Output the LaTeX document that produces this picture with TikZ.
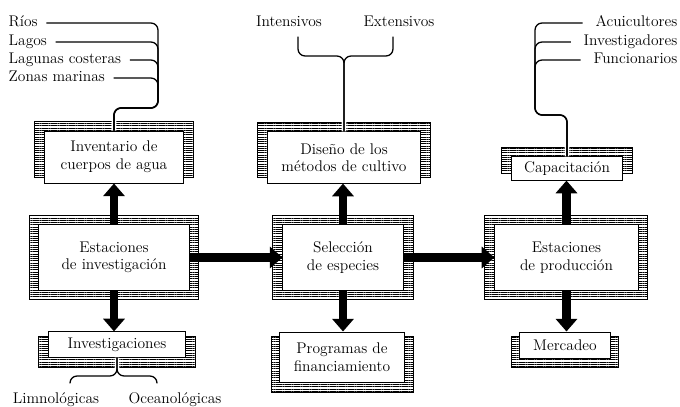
\documentclass[tikz,border=0pt]{standalone}
\usepackage{tikz}
\usetikzlibrary{positioning, arrows.meta, patterns.meta, backgrounds, calc}

\begin{document}
\begin{tikzpicture}[x=0.025cm, y=-0.025cm,
  font=\fontsize{11}{12.5}\selectfont,
  card/.style={draw, fill=white, line width=0.7pt, align=center, inner sep=0pt},
  hatch/.style={draw, line width=0.6pt, pattern={Lines[distance=1.6pt, line width=0.7pt]}},
  tag/.style={inner xsep=6pt, inner ysep=3pt, text height=1ex, text depth=0pt},
  branch/.style={line width=0.9pt, rounded corners=5pt},
  gap/.style={preaction={draw, white, line width=3.5pt}},
  bigarrow/.style={line width=6pt, -{Triangle[length=9pt, width=15pt]}}]
\useasboundingbox (0,0) rectangle (680,407);

% boxes
\node[card, minimum width=3.45cm, minimum height=1.3cm] (inventario) at (114,157) {Inventario de\\cuerpos de agua};
\node[card, minimum width=3.8cm, minimum height=1.28cm] (diseno) at (344,157.5) {Diseño de los\\métodos de cultivo};
\node[card, minimum width=2.78cm, minimum height=0.58cm] (capacitacion) at (567,168.5) {Capacitación};

\node[card, minimum width=3.75cm, minimum height=1.63cm] (estinv) at (114,257.5) {Estaciones\\de investigación};
\node[card, minimum width=3.0cm, minimum height=1.63cm] (seleccion) at (343,257.5) {Selección\\de especies};
\node[card, minimum width=3.58cm, minimum height=1.63cm] (estprod) at (566.5,257.5) {Estaciones\\de producción};

\node[card, minimum width=3.4cm, minimum height=0.63cm] (investigaciones) at (117,344.5) {Investigaciones};
\node[card, minimum width=3.1cm, minimum height=1.25cm] (programas) at (342,357) {Programas de\\financiamiento};
\node[card, minimum width=2.25cm, minimum height=0.65cm] (mercadeo) at (565,345) {Mercadeo};

% stacked sheets behind the boxes
\begin{scope}[on background layer]
\draw[hatch] ($(inventario.north west)+(-10,-9)$) rectangle ($(inventario.south east)+(10,-6)$);
\draw[hatch] ($(diseno.north west)+(-10,-9)$) rectangle ($(diseno.south east)+(10,-6)$);
\draw[hatch] ($(capacitacion.north west)+(-9,-9)$) rectangle ($(capacitacion.south east)+(9,-7)$);
\draw[hatch] ($(estinv.north west)+(-9,-9)$) rectangle ($(estinv.south east)+(9,9)$);
\draw[hatch] ($(seleccion.north west)+(-10,-9)$) rectangle ($(seleccion.south east)+(10,9)$);
\draw[hatch] ($(estprod.north west)+(-10,-9)$) rectangle ($(estprod.south east)+(9,9)$);
\draw[hatch] ($(investigaciones.north west)+(-10,5)$) rectangle ($(investigaciones.south east)+(10,10)$);
\draw[hatch] ($(programas.north west)+(-8,5)$) rectangle ($(programas.south east)+(9,10)$);
\draw[hatch] ($(mercadeo.north west)+(-8,5)$) rectangle ($(mercadeo.south east)+(8,9)$);
\end{scope}

% labels
\node[tag, anchor=west] (rios) at (0,23) {Ríos};
\node[tag, anchor=west] (lagos) at (0,42) {Lagos};
\node[tag, anchor=west] (lagunas) at (0,60) {Lagunas costeras};
\node[tag, anchor=west] (zonas) at (0,78) {Zonas marinas};

\node[tag] (intensivos) at (289,23) {Intensivos};
\node[tag] (extensivos) at (399,23) {Extensivos};

\node[tag, anchor=east] (acuicultores) at (686,23) {Acuicultores};
\node[tag, anchor=east] (investigadores) at (686,42) {Investigadores};
\node[tag, anchor=east] (funcionarios) at (686,60) {Funcionarios};

\node[tag] (limno) at (56,400) {Limnológicas};
\node[tag] (oceano) at (175,400) {Oceanológicas};

\coordinate (ltrunk) at (158,108);
\coordinate (rtrunk) at (535,115);
\coordinate (dbrace) at (diseno.north |- 0,56);
\coordinate (ibrace) at (investigaciones.south |- 0,376);

% branching lines
\draw[branch, gap] (rios.east) -| (ltrunk) -| (inventario.north);
\draw[branch] (lagos.east) -| (ltrunk) -| (inventario.north);
\draw[branch] (lagunas.east) -| (ltrunk) -| (inventario.north);
\draw[branch] (zonas.east) -| (ltrunk) -| (inventario.north);

\draw[branch, gap] ([shift={(9,6)}]intensivos.south) |- (dbrace) -- (diseno.north);
\draw[branch] ([shift={(-6,6)}]extensivos.south) |- (dbrace) -- (diseno.north);

\draw[branch, gap] ([xshift=-3pt]acuicultores.west) -| (rtrunk) -| (capacitacion.north);
\draw[branch] ([xshift=-3pt]investigadores.west) -| (rtrunk) -| (capacitacion.north);
\draw[branch] ([xshift=-3pt]funcionarios.west) -| (rtrunk) -| (capacitacion.north);

\draw[branch, gap] ([shift={(14,-9)}]limno.north) |- (ibrace) -- (investigaciones.south);
\draw[branch] ([shift={(-18,-9)}]oceano.north) |- (ibrace) -- (investigaciones.south);

% arrows
\draw[bigarrow] (estinv.north) -- (estinv.north |- inventario.south);
\draw[bigarrow] (estinv.south) -- (estinv.south |- investigaciones.north);
\draw[bigarrow] (estinv.east) -- (seleccion.west);
\draw[bigarrow] (seleccion.north) -- (seleccion.north |- diseno.south);
\draw[bigarrow] (seleccion.south) -- (seleccion.south |- programas.north);
\draw[bigarrow] (seleccion.east) -- (estprod.west);
\draw[bigarrow] (estprod.north) -- (estprod.north |- capacitacion.south);
\draw[bigarrow] (estprod.south) -- (estprod.south |- mercadeo.north);
\end{tikzpicture}
\end{document}
